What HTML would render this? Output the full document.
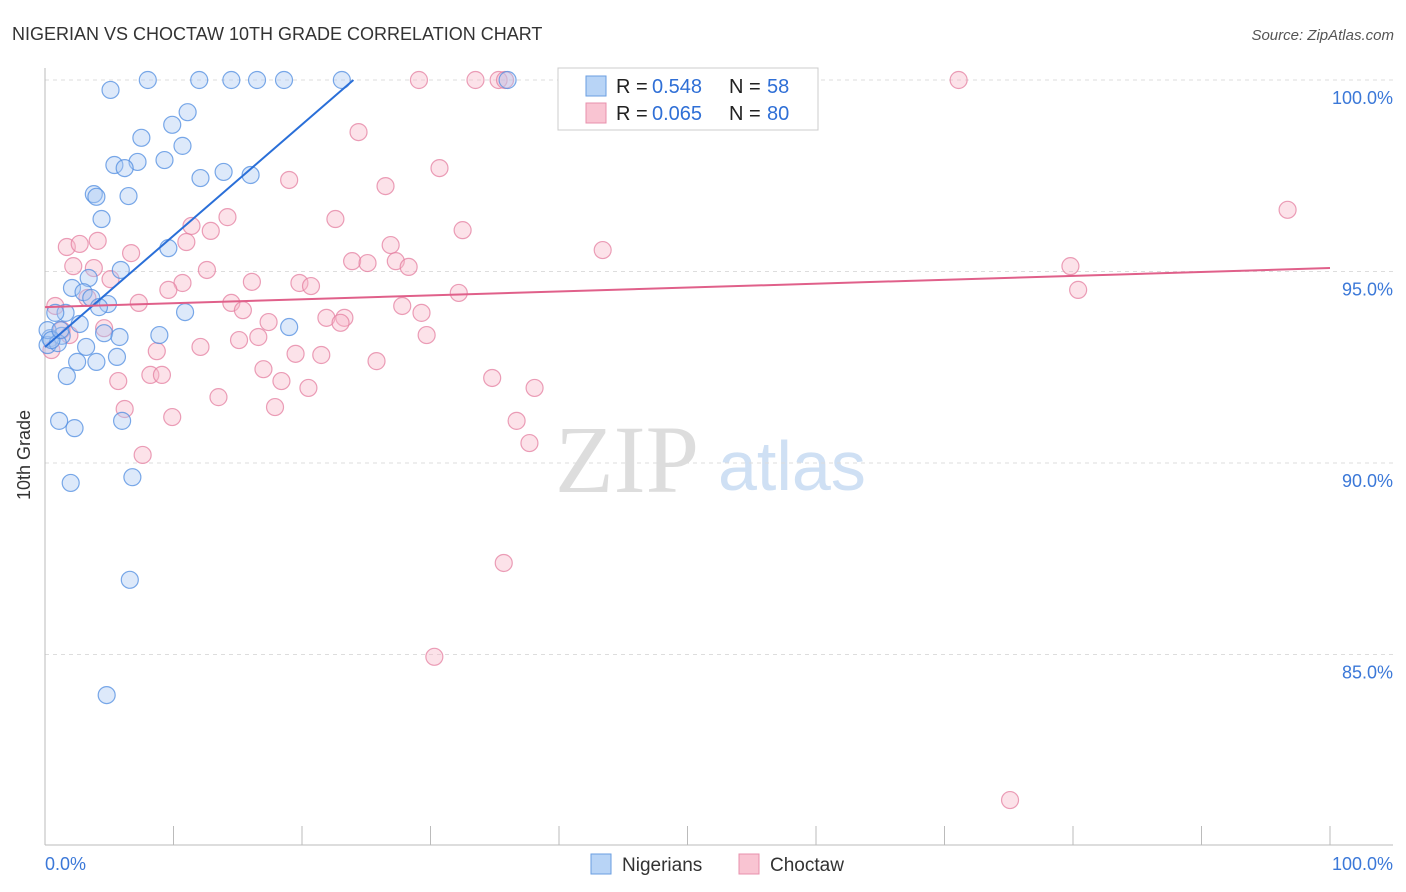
<!DOCTYPE html>
<html><head><meta charset="utf-8"><style>
body{margin:0;background:#fff;font-family:"Liberation Sans",sans-serif}
svg{display:block}
</style></head><body>
<svg id="chart" width="1406" height="892">
<text x="12" y="40" font-size="18" fill="#333">NIGERIAN VS CHOCTAW 10TH GRADE CORRELATION CHART</text>
<text x="1394" y="40" font-size="15" fill="#555" font-style="italic" text-anchor="end">Source: ZipAtlas.com</text>
<text x="30" y="455" font-size="18" fill="#333" transform="rotate(-90 30 455)" text-anchor="middle">10th Grade</text>
<g><text x="555" y="492" font-size="96" font-family="Liberation Serif,serif" fill="#ddd">ZIP</text><text x="718" y="490" font-size="70" fill="#cfe0f4">atlas</text></g>
<g id="grid"></g><g id="axes"></g><g id="pts"></g><g id="lines"></g>
<g>
<rect x="558" y="68" width="260" height="62" fill="#fff" stroke="#ccc"/>
<rect x="586" y="76" width="20" height="20" fill="#b8d4f6" stroke="#6a9ee0"/>
<rect x="586" y="103" width="20" height="20" fill="#f9c4d2" stroke="#e890ac"/>
<text x="616" y="93" font-size="20" fill="#222">R =</text><text x="652" y="93" font-size="20" fill="#2f6fd6">0.548</text>
<text x="729" y="93" font-size="20" fill="#222">N =</text><text x="767" y="93" font-size="20" fill="#2f6fd6">58</text>
<text x="616" y="120" font-size="20" fill="#222">R =</text><text x="652" y="120" font-size="20" fill="#2f6fd6">0.065</text>
<text x="729" y="120" font-size="20" fill="#222">N =</text><text x="767" y="120" font-size="20" fill="#2f6fd6">80</text>
</g>
<g>
<rect x="591" y="854" width="20" height="20" fill="#b8d4f6" stroke="#6a9ee0"/>
<text x="622" y="871" font-size="19" fill="#333">Nigerians</text>
<rect x="739" y="854" width="20" height="20" fill="#f9c4d2" stroke="#e890ac"/>
<text x="770" y="871" font-size="19" fill="#333">Choctaw</text>
</g>
</svg>
<script>
const yTicks=[100,95,90,85];
const yTickLabels=["100.0%","95.0%","90.0%","85.0%"];
const xTickLabels=["0.0%","100.0%"];
const blueX=[8.0,12.0,14.5,16.5,18.6,23.1,5.1,11.1,9.9,7.5,10.7,5.4,7.2,9.3,6.2,12.1,13.9,16.0,3.8,4.0,6.5,4.4,9.6,5.9,3.4,2.1,3.0,3.6,4.9,10.9,4.2,1.6,0.8,2.7,19.0,4.6,5.8,8.9,1.3,0.4,0.2,3.2,1.0,5.6,2.5,4.0,1.7,1.1,2.3,6.0,2.0,6.8,6.6,4.8,36.0,0.2,0.5,1.2];
const blueY=[100,100,100,100,100,100,99.74,99.16,98.83,98.49,98.28,97.78,97.86,97.91,97.70,97.44,97.60,97.52,97.02,96.95,96.97,96.37,95.61,95.04,94.83,94.57,94.46,94.31,94.15,93.94,94.07,93.92,93.92,93.63,93.55,93.39,93.29,93.34,93.32,93.26,93.08,93.03,93.13,92.77,92.64,92.64,92.27,91.10,90.91,91.10,89.48,89.63,86.95,83.94,100,93.47,93.21,93.47];
const pinkX=[29.1,33.5,35.3,35.8,45.5,71.1,24.4,30.7,19.0,26.5,14.2,22.6,11.4,12.9,32.5,96.7,1.7,2.7,4.1,11.0,6.7,43.4,26.9,23.9,25.1,27.3,28.3,2.2,3.8,12.6,79.8,5.1,16.1,10.7,9.6,19.8,20.7,32.2,80.4,0.8,7.3,14.5,15.4,27.8,29.3,3.3,21.9,23.3,23.0,17.4,4.6,29.7,1.3,15.1,16.6,12.1,8.7,19.5,21.5,25.8,17.0,8.2,9.1,5.7,18.4,20.5,34.8,38.1,13.5,6.2,17.9,9.9,36.7,37.7,7.6,35.7,30.3,75.1,0.5,1.9];
const pinkY=[100,100,100,100,100,100,98.64,97.70,97.39,97.23,96.42,96.37,96.19,96.06,96.08,96.61,95.64,95.72,95.80,95.77,95.48,95.56,95.69,95.27,95.22,95.27,95.12,95.14,95.09,95.04,95.14,94.80,94.73,94.70,94.52,94.70,94.62,94.44,94.52,94.10,94.18,94.18,93.99,94.10,93.92,94.31,93.79,93.79,93.66,93.68,93.52,93.34,93.47,93.21,93.29,93.03,92.92,92.85,92.82,92.66,92.45,92.30,92.30,92.14,92.14,91.96,92.22,91.96,91.72,91.41,91.46,91.20,91.10,90.52,90.21,87.39,84.94,81.20,92.95,93.34];
const blueLineX=[0,24.0], blueLineY=[93.03,100];
const pinkLineX=[0,100], pinkLineY=[94.07,95.09];
const NS='http://www.w3.org/2000/svg';
const X=v=>45+v*12.85, Y=v=>80+(100-v)*38.3;
function mk(t,a,p){const e=document.createElementNS(NS,t);for(const k in a)e.setAttribute(k,a[k]);p.appendChild(e);return e;}
const grid=document.getElementById('grid'),axes=document.getElementById('axes'),pts=document.getElementById('pts'),lines=document.getElementById('lines');
yTicks.forEach((t,i)=>{
 const l=mk('line',{x1:45,x2:1393,y1:Y(t),y2:Y(t),stroke:'#ddd','stroke-dasharray':'4,4'},grid);
 
 
 const tx=mk('text',{x:1393,y:Y(t)+24,'font-size':18,fill:'#3b78d8','text-anchor':'end'},axes);tx.textContent=yTickLabels[i];
 
 
});
const ax=mk('line',{x1:45,x2:1393,y1:845,y2:845,stroke:'#bbb'},axes);


const ay=mk('line',{x1:45,x2:45,y1:68,y2:845,stroke:'#bbb'},axes);


for(let i=0;i<=10;i++){const t=mk('line',{x1:X(i*10),x2:X(i*10),y1:826,y2:845,stroke:'#bbb'},axes);
 
 }
const xl0=mk('text',{x:45,y:870,'font-size':18,fill:'#3b78d8'},axes);xl0.textContent=xTickLabels[0];


const xl1=mk('text',{x:1393,y:870,'font-size':18,fill:'#3b78d8','text-anchor':'end'},axes);xl1.textContent=xTickLabels[1];


function dots(xs,ys,fill,stroke,name){xs.forEach((v,i)=>{const c=mk('circle',{cx:X(v),cy:Y(ys[i]),r:8.5,fill:fill,'fill-opacity':0.4,stroke:stroke,'stroke-width':1.2,'stroke-opacity':0.75},pts);
 
 });}
dots(pinkX,pinkY,'#f7b6c8','#e47fa0','choctaw-point');
dots(blueX,blueY,'#a9c9f2','#4f8ce0','nigerian-point');
const bl=mk('line',{x1:X(blueLineX[0]),y1:Y(blueLineY[0]),x2:X(blueLineX[1]),y2:Y(blueLineY[1]),stroke:'#2a6fd8','stroke-width':2},lines);


const pl=mk('line',{x1:X(pinkLineX[0]),y1:Y(pinkLineY[0]),x2:X(pinkLineX[1]),y2:Y(pinkLineY[1]),stroke:'#e0608a','stroke-width':2},lines);


</script>
</body></html>
